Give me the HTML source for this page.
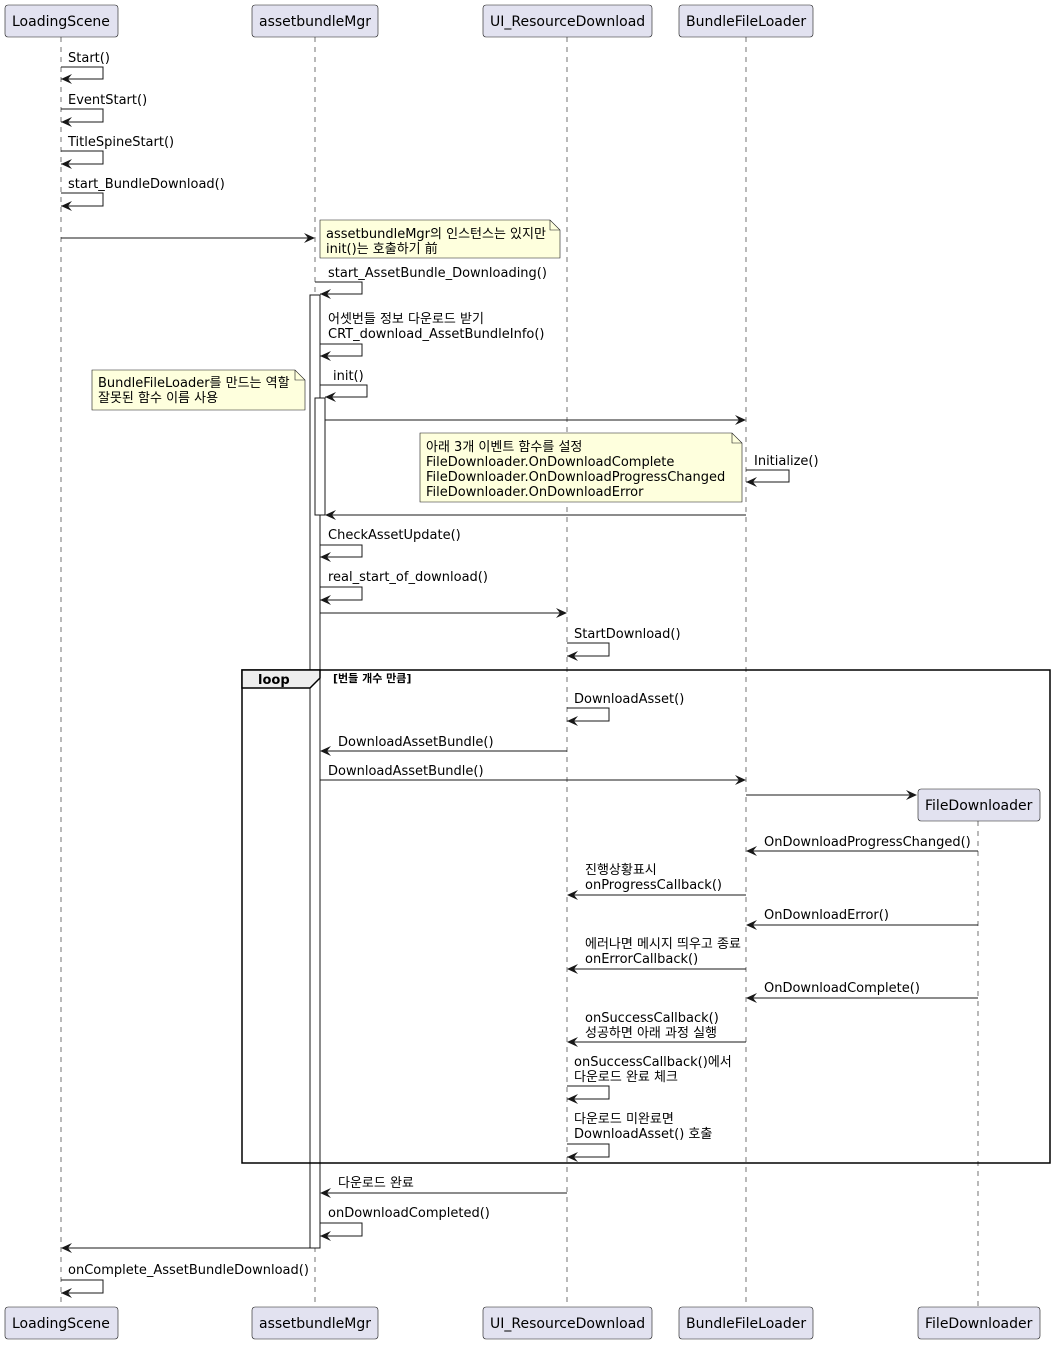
<!DOCTYPE html>
<html><head><meta charset="utf-8"><style>
html,body{margin:0;padding:0;background:#fff}
svg text{font-family:"DejaVu Sans","Noto Sans CJK KR",sans-serif;font-size:13px;fill:#000}
svg text.p{font-size:14px}
</style></head><body>
<svg width="1055" height="1342" viewBox="0 0 1055 1342" xmlns="http://www.w3.org/2000/svg">
<g stroke="#181818" stroke-width="0.6" stroke-dasharray="5,5">
<line x1="61" y1="37" x2="61" y2="1307"/>
<line x1="315" y1="37" x2="315" y2="1307"/>
<line x1="567" y1="37" x2="567" y2="1307"/>
<line x1="746" y1="37" x2="746" y2="1307"/>
<line x1="978" y1="821" x2="978" y2="1307"/>
</g>
<g fill="#E2E2F0" stroke="#181818" stroke-width="0.6">
<rect x="5" y="5" width="113" height="32" rx="3"/>
<rect x="252" y="5" width="126" height="32" rx="3"/>
<rect x="483" y="5" width="169" height="32" rx="3"/>
<rect x="679" y="5" width="134" height="32" rx="3"/>
<rect x="5" y="1307" width="113" height="32" rx="3"/>
<rect x="252" y="1307" width="126" height="32" rx="3"/>
<rect x="483" y="1307" width="169" height="32" rx="3"/>
<rect x="679" y="1307" width="134" height="32" rx="3"/>
<rect x="918" y="789" width="122" height="32" rx="3"/>
<rect x="918" y="1307" width="122" height="32" rx="3"/>
</g>
<text class="p" x="12" y="26">LoadingScene</text>
<text class="p" x="259" y="26">assetbundleMgr</text>
<text class="p" x="490" y="26">UI_ResourceDownload</text>
<text class="p" x="686" y="26">BundleFileLoader</text>
<text class="p" x="12" y="1328">LoadingScene</text>
<text class="p" x="259" y="1328">assetbundleMgr</text>
<text class="p" x="490" y="1328">UI_ResourceDownload</text>
<text class="p" x="686" y="1328">BundleFileLoader</text>
<text class="p" x="925" y="810">FileDownloader</text>
<text class="p" x="925" y="1328">FileDownloader</text>
<rect x="310" y="295" width="10" height="953" fill="#fff" stroke="#181818" stroke-width="1"/>
<rect x="315" y="398" width="10" height="117" fill="#fff" stroke="#181818" stroke-width="1"/>
<rect x="242" y="670" width="808" height="493" fill="none" stroke="#000" stroke-width="1.5"/>
<path d="M242,670 L320,670 L320,678 L310,688 L242,688 Z" fill="#EEEEEE" stroke="#000" stroke-width="1.5"/>
<text x="258" y="684" style="font-weight:bold;font-size:13px">loop</text>
<text x="333" y="682" style="font-weight:bold;font-size:11px">[번들 개수 만큼]</text>
<g fill="#FEFFDD" stroke="#181818" stroke-width="0.6">
<path d="M320,220 L550,220 L560,230 L560,258 L320,258 Z"/>
<path d="M550,220 L550,230 L560,230" fill="none"/>
<path d="M92,370 L295,370 L305,380 L305,410 L92,410 Z"/>
<path d="M295,370 L295,380 L305,380" fill="none"/>
<path d="M420,433 L732,433 L742,443 L742,502 L420,502 Z"/>
<path d="M732,433 L732,443 L742,443" fill="none"/>
</g>
<text x="326" y="238">assetbundleMgr의 인스턴스는 있지만</text>
<text x="326" y="253">init()는 호출하기 前</text>
<text x="98" y="387">BundleFileLoader를 만드는 역할</text>
<text x="98" y="402">잘못된 함수 이름 사용</text>
<text x="426" y="451">아래 3개 이벤트 함수를 설정</text>
<text x="426" y="466">FileDownloader.OnDownloadComplete</text>
<text x="426" y="481">FileDownloader.OnDownloadProgressChanged</text>
<text x="426" y="496">FileDownloader.OnDownloadError</text>
<g fill="none" stroke="#181818" stroke-width="1">
<polyline points="61,67 103,67 103,79 61,79"/>
<polyline points="61,109 103,109 103,122 61,122"/>
<polyline points="61,151 103,151 103,164 61,164"/>
<polyline points="61,193 103,193 103,206 61,206"/>
<polyline points="315,282 362,282 362,294 320,294"/>
<polyline points="320,344 362,344 362,356 320,356"/>
<polyline points="320,385 367,385 367,397 325,397"/>
<polyline points="746,470 789,470 789,482 746,482"/>
<polyline points="320,545 362,545 362,557 320,557"/>
<polyline points="320,587 362,587 362,600 320,600"/>
<polyline points="567,643 609,643 609,656 567,656"/>
<polyline points="567,708 609,708 609,721 567,721"/>
<polyline points="567,1086 609,1086 609,1099 567,1099"/>
<polyline points="567,1144 609,1144 609,1157 567,1157"/>
<polyline points="320,1223 362,1223 362,1236 320,1236"/>
<polyline points="61,1280 103,1280 103,1293 61,1293"/>
<line x1="61" y1="238" x2="313" y2="238"/>
<line x1="325" y1="420" x2="744" y2="420"/>
<line x1="746" y1="515" x2="327" y2="515"/>
<line x1="320" y1="613" x2="565" y2="613"/>
<line x1="567" y1="751" x2="322" y2="751"/>
<line x1="320" y1="780" x2="744" y2="780"/>
<line x1="746" y1="795" x2="915" y2="795"/>
<line x1="978" y1="851" x2="748" y2="851"/>
<line x1="746" y1="895" x2="569" y2="895"/>
<line x1="978" y1="925" x2="748" y2="925"/>
<line x1="746" y1="969" x2="569" y2="969"/>
<line x1="978" y1="998" x2="748" y2="998"/>
<line x1="746" y1="1042" x2="569" y2="1042"/>
<line x1="567" y1="1193" x2="322" y2="1193"/>
<line x1="310" y1="1248" x2="63" y2="1248"/>
</g>
<g fill="#181818">
<polygon points="72,74 61,79 72,84 68,79"/>
<polygon points="72,117 61,122 72,127 68,122"/>
<polygon points="72,159 61,164 72,169 68,164"/>
<polygon points="72,201 61,206 72,211 68,206"/>
<polygon points="331,289 320,294 331,299 327,294"/>
<polygon points="331,351 320,356 331,361 327,356"/>
<polygon points="336,392 325,397 336,402 332,397"/>
<polygon points="757,477 746,482 757,487 753,482"/>
<polygon points="331,552 320,557 331,562 327,557"/>
<polygon points="331,595 320,600 331,605 327,600"/>
<polygon points="578,651 567,656 578,661 574,656"/>
<polygon points="578,716 567,721 578,726 574,721"/>
<polygon points="578,1094 567,1099 578,1104 574,1099"/>
<polygon points="578,1152 567,1157 578,1162 574,1157"/>
<polygon points="331,1231 320,1236 331,1241 327,1236"/>
<polygon points="72,1288 61,1293 72,1298 68,1293"/>
<polygon points="304,233 315,238 304,243 308,238"/>
<polygon points="735,415 746,420 735,425 739,420"/>
<polygon points="336,510 325,515 336,520 332,515"/>
<polygon points="556,608 567,613 556,618 560,613"/>
<polygon points="331,746 320,751 331,756 327,751"/>
<polygon points="735,775 746,780 735,785 739,780"/>
<polygon points="906,790 917,795 906,800 910,795"/>
<polygon points="757,846 746,851 757,856 753,851"/>
<polygon points="578,890 567,895 578,900 574,895"/>
<polygon points="757,920 746,925 757,930 753,925"/>
<polygon points="578,964 567,969 578,974 574,969"/>
<polygon points="757,993 746,998 757,1003 753,998"/>
<polygon points="578,1037 567,1042 578,1047 574,1042"/>
<polygon points="331,1188 320,1193 331,1198 327,1193"/>
<polygon points="72,1243 61,1248 72,1253 68,1248"/>
</g>
<text x="68" y="62">Start()</text>
<text x="68" y="104">EventStart()</text>
<text x="68" y="146">TitleSpineStart()</text>
<text x="68" y="188">start_BundleDownload()</text>
<text x="328" y="277">start_AssetBundle_Downloading()</text>
<text x="328" y="323">어셋번들 정보 다운로드 받기</text>
<text x="328" y="338">CRT_download_AssetBundleInfo()</text>
<text x="333" y="380">init()</text>
<text x="754" y="465">Initialize()</text>
<text x="328" y="539">CheckAssetUpdate()</text>
<text x="328" y="581">real_start_of_download()</text>
<text x="574" y="638">StartDownload()</text>
<text x="574" y="703">DownloadAsset()</text>
<text x="338" y="746">DownloadAssetBundle()</text>
<text x="328" y="775">DownloadAssetBundle()</text>
<text x="764" y="846">OnDownloadProgressChanged()</text>
<text x="585" y="874">진행상황표시</text>
<text x="585" y="889">onProgressCallback()</text>
<text x="764" y="919">OnDownloadError()</text>
<text x="585" y="948">에러나면 메시지 띄우고 종료</text>
<text x="585" y="963">onErrorCallback()</text>
<text x="764" y="992">OnDownloadComplete()</text>
<text x="585" y="1022">onSuccessCallback()</text>
<text x="585" y="1037">성공하면 아래 과정 실행</text>
<text x="574" y="1066">onSuccessCallback()에서</text>
<text x="574" y="1081">다운로드 완료 체크</text>
<text x="574" y="1123">다운로드 미완료면</text>
<text x="574" y="1138">DownloadAsset() 호출</text>
<text x="338" y="1187">다운로드 완료</text>
<text x="328" y="1217">onDownloadCompleted()</text>
<text x="68" y="1274">onComplete_AssetBundleDownload()</text>
</svg>
</body></html>
